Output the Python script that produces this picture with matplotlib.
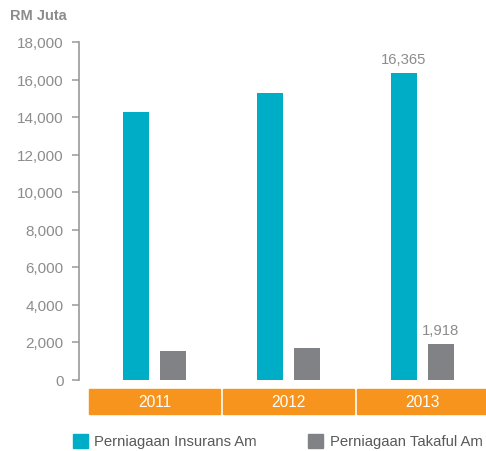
import matplotlib
matplotlib.use("Agg")
import matplotlib.pyplot as plt
from matplotlib.patches import Rectangle
from matplotlib.ticker import FuncFormatter

# Data (RM million)
years = ["2011", "2012", "2013"]
insurans = [14270, 15280, 16365]
takaful = [1520, 1680, 1918]
series_names = ["Perniagaan Insurans Am", "Perniagaan Takaful Am"]
y_ticks = list(range(0, 18001, 2000))

TEAL = "#00adc6"
GREY = "#808285"
ORANGE = "#f7941d"
TEXT = "#8c8c8c"
FONT = ["Liberation Sans", "DejaVu Sans"]
FS = 10.7

W, H = 486, 452
fig = plt.figure(figsize=(W / 100, H / 100), dpi=100)
fig.patch.set_facecolor("white")

# axes area in pixels: spine at x=79, zero at y=380.5, top tick at y=43
x0, x1, yb, yt = 79, 486, 380.5, 43
ax = fig.add_axes([x0 / W, (H - yb) / H, (x1 - x0) / W, (yb - yt) / H])
ax.set_facecolor("none")

xs = list(range(len(years)))
bw = 0.194
off = 0.138
ax.bar([x - off for x in xs], insurans, width=bw, color=TEAL, zorder=3)
ax.bar([x + off for x in xs], takaful, width=bw, color=GREY, zorder=3)

ax.set_xlim(-0.563, 2.474)
ax.set_ylim(0, 18000)
ax.set_yticks(y_ticks)
ax.yaxis.set_major_formatter(FuncFormatter(lambda v, p: f"{int(v):,}"))
ax.set_xticks([])
for s in ["top", "right", "bottom"]:
    ax.spines[s].set_visible(False)
ax.spines["left"].set_color("#9a9a9a")
ax.spines["left"].set_linewidth(1.2)
ax.tick_params(axis="y", direction="out", length=5, width=1.1, color="#9a9a9a",
               pad=6, labelcolor=TEXT, labelsize=FS + 0.3)
for lab in ax.get_yticklabels():
    lab.set_fontfamily(FONT)

# value labels on 2013 bars
ax.annotate(f"{insurans[2]:,}", (2 - off, insurans[2]), xytext=(0, 4.5),
            textcoords="offset points", ha="center", va="bottom",
            color=TEXT, fontsize=FS, family=FONT)
ax.annotate(f"{takaful[2]:,}", (2 + off, takaful[2]), xytext=(0, 4.5),
            textcoords="offset points", ha="center", va="bottom",
            color=TEXT, fontsize=FS, family=FONT)

# orange year band below the axis
ppu = (yb - yt) / 18000.0
band_top = -(390 - yb) / ppu
band_bot = -(415 - yb) / ppu
for x, yr in zip(xs, years):
    ax.add_patch(Rectangle((x - 0.489, band_bot), 0.978, band_top - band_bot,
                           color=ORANGE, clip_on=False, zorder=2))
    ax.text(x, (band_top + band_bot) / 2, yr, ha="center", va="center",
            color="white", fontsize=FS + 0.5, family=FONT, clip_on=False)

# unit title
fig.text(10 / W, 1 - 16 / H, "RM Juta", ha="left", va="center", color=TEXT,
         fontsize=10.5, fontweight="bold", family=FONT)

# legend
leg_y = 442
for (sx, tx), col, name in zip([(73, 94), (308, 330)], [TEAL, GREY], series_names):
    fig.patches.append(Rectangle((sx / W, 1 - 449 / H), 15 / W, 14 / H,
                                 transform=fig.transFigure, color=col))
    fig.text(tx / W, 1 - leg_y / H, name, ha="left", va="center",
             color="#58595b", fontsize=FS, family=FONT)

fig.savefig("out.png", dpi=100)
